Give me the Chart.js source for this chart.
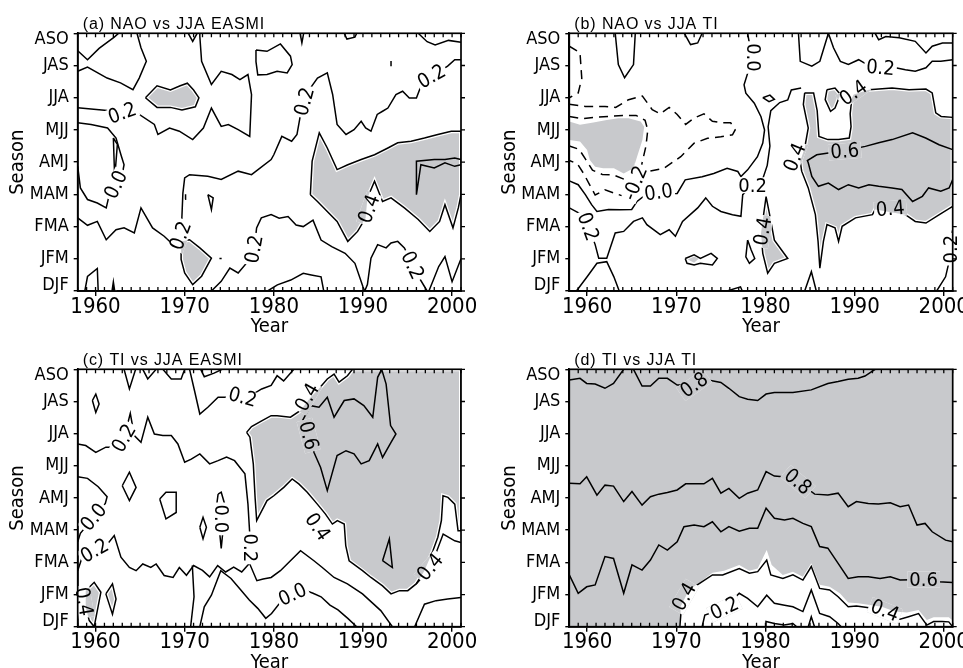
<!DOCTYPE html>
<html>
<head>
<meta charset="utf-8">
<script src="https://cdn.jsdelivr.net/npm/chart.js@4.4.1/dist/chart.umd.min.js"></script>
<style>
html,body{margin:0;padding:0;background:#fff;overflow:hidden;}
#wrap{position:relative;width:963px;height:668px;}
canvas{position:absolute;}
</style>
</head>
<body>
<div id="wrap">
<canvas id="ca" width="481" height="334" style="left:0;top:0;width:481px;height:334px"></canvas>
<canvas id="cb" width="482" height="334" style="left:481px;top:0;width:482px;height:334px"></canvas>
<canvas id="cc" width="481" height="334" style="left:0;top:334px;width:481px;height:334px"></canvas>
<canvas id="cd" width="482" height="334" style="left:481px;top:334px;width:482px;height:334px"></canvas>
</div>
<script>
// ---------- axes ----------
const seasons = ['DJF','JFM','FMA','MAM','AMJ','MJJ','JJA','JAS','ASO'];
const yearTicks = [1960,1970,1980,1990,2000];
const yearMin = 1958, yearMax = 2001;
const titles = ['(a) NAO vs JJA EASMI','(b) NAO vs JJA TI','(c) TI vs JJA EASMI','(d) TI vs JJA TI'];

// ---------- panel (a): NAO vs JJA EASMI ----------
const aShadeJJA = [[1965.6,6.0],[1966.9,6.37],[1968.4,6.24],[1969.5,6.37],[1970.3,6.45],[1971.0,6.24],[1971.6,6.0],[1971.2,5.72],[1969.7,5.62],[1968.4,5.7],[1966.9,5.7]];
const aShadeJFM = [[1969.6,1.54],[1970.55,1.59],[1971.7,1.34],[1973.0,1.02],[1971.9,0.46],[1970.9,0.2],[1970.0,0.56],[1969.6,0.98]];
const aShadeRight = [[1984.1,2.99],[1984.3,4.03],[1985.1,4.91],[1986.0,4.44],[1987.1,3.77],[1988.3,3.92],[1989.8,4.08],[1991.3,4.23],[1992.8,4.44],[1993.9,4.60],[1995.4,4.65],[1996.9,4.75],[1998.4,4.86],[1999.9,4.96],[2001,4.96],[2001,2.99],[2000.7,2.58],[2000.1,1.96],[1999.2,2.68],[1998.6,2.16],[1997.5,1.85],[1996.2,2.22],[1994.65,2.58],[1993.15,2.89],[1992.2,2.78],[1991.3,3.41],[1990.5,2.89],[1990.3,2.27],[1989.4,1.85],[1988.3,1.54],[1987.1,2.16],[1986.0,2.47],[1984.9,2.78]];
const aShadeTop = [[1982.95,8],[1983.15,7.7],[1983.35,8]];
const aShadeSpike = [[1961.85,0],[1962.0,0.28],[1962.15,0]];
const aTopLeft = [[1958,7.46],[1959.1,7.18],[1960.4,7.53],[1962.1,7.88],[1962.6,8]];
const aUpper02 = [[1958,6.82],[1959.1,6.95],[1961.3,6.61],[1962.8,6.46],[1964.2,6.25],[1964.9,6.61],[1965.7,7.13],[1965.1,7.55],[1964.65,8]];
const aMid02 = [[1958,5.69],[1961.3,5.6],[1964.65,5.53],[1966.6,5.17],[1967.0,4.86],[1968.3,5.06],[1969.4,4.96],[1970.9,4.7],[1972.1,5.06],[1973.0,5.68],[1974.1,5.11],[1974.9,5.17],[1976.0,5.01],[1977.3,4.8],[1977.5,6.1],[1977.1,6.72],[1976.2,6.56],[1975.3,6.72],[1974.1,6.82],[1973.0,6.41],[1971.9,7.13],[1971.7,7.91],[1971.7,8]];
const aTopV = [[1970.4,8],[1970.9,7.75],[1971.4,8]];
const aJASLoop = [[1978.0,7.48],[1979.24,7.44],[1980.74,7.67],[1981.87,7.29],[1982.06,7.03],[1981.5,6.77],[1980.37,6.82],[1979.24,6.72],[1978.2,6.71],[1978.0,7.12],[1978.0,7.48]];
const aTopBump = [[1987.9,8],[1988.2,7.82],[1989.1,7.88],[1989.3,8]];
const aTopRight = [[1996.2,8],[1997.2,7.74],[1998.1,7.64],[1999.6,7.78],[2001,7.72]];
const aTick = [[1993.15,6.98],[1993.15,7.14]];
const aLong02 = [[1958,2.27],[1959.1,2.04],[1960.2,2.16],[1961.2,1.59],[1962.3,1.90],[1963.2,1.96],[1964.35,1.80],[1965.1,2.58],[1966.4,1.96],[1967.7,1.70],[1968.9,1.39],[1969.6,1.7],[1969.8,3.04],[1970.0,3.51],[1970.55,3.61],[1972.6,3.56],[1974.1,3.46],[1976.0,3.72],[1977.5,3.61],[1979.7,4.08],[1980.0,4.23],[1980.9,4.80],[1982.0,4.65],[1982.6,4.86],[1983.0,5.48],[1983.45,5.93],[1984.1,6.30],[1984.9,6.61],[1986.0,6.77],[1986.6,6.10],[1987.1,5.17],[1988.1,4.86],[1989.0,5.01],[1989.8,5.27],[1990.3,5.06],[1990.9,4.96],[1991.6,5.48],[1992.2,5.58],[1992.8,5.68],[1993.7,6.10],[1994.45,6.20],[1995.2,5.99],[1996.0,5.99],[1996.5,6.36],[1997.7,6.66],[1999.5,6.98],[2000.3,7.18],[2001,7.18]];
const aLoop00 = [[1958,5.22],[1959.5,5.17],[1961.35,5.06],[1962.3,4.75],[1962.85,4.23],[1963.2,3.92],[1962.85,3.41],[1962.3,3.30],[1961.5,2.94],[1961.2,2.58],[1960.2,2.73],[1959.1,2.84],[1958.3,3.20],[1958,3.87]];
const aSliver = [[1962.0,4.75],[1962.15,3.5],[1962.45,4.55],[1962.0,4.75]];
const aTri = [[1972.6,2.99],[1973.2,2.89],[1973.0,2.53],[1972.6,2.99]];
const aMark = [[1970.05,2.85],[1970.1,3.0]];
const aDash = [[1973.9,1.01],[1974.15,1.01]];
const aLow02 = [[1973.0,0],[1974.1,0.30],[1975.07,0.71],[1976.0,0.56],[1977.1,0.92],[1977.8,1.3],[1978.07,1.96],[1978.6,2.27],[1979.7,2.37],[1980.6,2.26],[1981.6,2.31],[1982.5,2.05],[1983.3,2.0],[1984.4,2.2],[1985.3,1.58],[1986.5,1.38],[1988.0,1.17],[1989.1,0.86],[1990.0,0.13],[1990.2,0]];
const aBottomMid = [[1979.3,0],[1980.4,0.19],[1981.9,0.34],[1983.3,0.55],[1984.2,0.5],[1985.3,0.44],[1985.6,0]];
const aRight02 = [[1990.2,0],[1990.5,0.2],[1990.9,1.02],[1991.65,1.44],[1992.6,1.34],[1993.15,1.49],[1993.9,1.54],[1994.65,1.34],[1995.4,0.92],[1996.2,0.46],[1996.9,0.14],[1997.2,0]];
const aBottomRight = [[1997.4,0],[1998.5,0.76],[1999.2,1.07],[2000.0,0.29],[2001,1.0]];
const aBottomLeft = [[1958.8,0],[1959.1,0.45],[1960.2,0.7],[1960.3,0]];
const aInner = [[2001,3.92],[2000.3,3.87],[1999.2,3.98],[1998.0,3.82],[1996.5,3.92],[1996.0,2.99],[1996.0,4.03],[1998.0,4.08],[1999.2,4.08],[2000.3,4.13],[2001,4.08]];
const aLabels = [[1963.0,5.52,'0.2',-20],[1962.3,3.3,'0.0',-65],[1969.55,1.72,'0.2',-70],[1977.8,1.3,'0.2',-80],[1983.45,5.88,'0.2',-75],[1990.7,2.55,'0.4',-70],[1995.55,0.8,'0.2',65],[1997.7,6.66,'0.2',-30]];

// ---------- panel (b): NAO vs JJA TI ----------
const bShadeLeft = [[1958,5.26],[1959.2,5.16],[1960.7,5.23],[1962.2,5.31],[1963.5,5.36],[1964.65,5.36],[1966.0,5.26],[1966.4,5.10],[1966.2,4.69],[1965.6,4.17],[1965.2,3.81],[1964.1,3.65],[1963.0,3.81],[1961.8,3.81],[1960.9,3.86],[1960.3,4.07],[1960.0,4.38],[1959.2,4.64],[1958,4.69]];
const bShadeBig = [[1984.4,6.15],[1985.4,6.15],[1985.8,5.6],[1986.0,4.8],[1987.0,4.7],[1988.2,4.7],[1989.4,4.75],[1989.6,5.1],[1989.5,5.5],[1989.7,6.0],[1989.9,6.1],[1991.6,6.25],[1994.2,6.3],[1996.1,6.25],[1998.0,6.27],[1998.7,6.15],[1999.1,5.53],[1999.7,5.42],[2001,5.39],[2001,2.63],[1999.5,2.37],[1998.0,2.11],[1996.8,2.16],[1995.7,2.37],[1992.3,2.53],[1992.0,2.37],[1990.1,2.27],[1988.6,2.01],[1988.2,1.54],[1987.8,1.96],[1986.9,2.06],[1986.5,1.54],[1986.1,0.71],[1985.9,1.54],[1985.6,2.37],[1984.8,3.2],[1984.06,3.72],[1983.9,4.03],[1984.4,4.44],[1984.8,5.06],[1984.25,5.79]];
const bShadeFinger = [[1986.9,6.25],[1987.8,6.3],[1988.4,6.1],[1987.8,5.68],[1987.3,5.58],[1986.7,5.94]];
const bShadeSpike = [[1980.07,2.93],[1980.44,2.41],[1981.0,1.58],[1982.5,1.01],[1981.0,0.86],[1980.25,0.55],[1979.7,1.17],[1979.5,1.79]];
const bShadeSmall = [[1971.3,0.98],[1972.0,1.07],[1972.5,1.0],[1972.0,0.88]];
const bTopV = [[1963.15,8],[1963.5,7.03],[1964.2,6.62],[1965.2,7.03],[1965.4,8]];
const bTopSmall = [[1970.9,8],[1971.6,7.65],[1972.4,7.7],[1972.9,8]];
const bDashLoop = [[1958,7.6],[1959.2,7.4],[1959.4,6.6],[1959.0,6.15],[1958,6.0]];
const bDashBig = [[1958,5.8],[1959.8,5.73],[1962,5.73],[1963.2,5.7],[1964.65,5.94],[1966.2,6.05],[1967.3,5.63],[1968.2,5.5],[1969.2,5.7],[1970.1,5.48],[1971.05,5.17],[1972,5.37],[1973.1,5.5],[1974.05,5.27],[1975.2,5.22],[1976.1,5.22],[1976.6,5.0],[1976.3,4.85],[1975.0,4.79],[1973.5,4.74],[1972.0,4.59],[1970.5,4.17],[1968.6,3.81],[1966.7,3.7],[1965.6,3.29],[1964.5,2.9],[1962.0,3.14],[1960.9,2.98],[1960.3,3.29],[1959.6,3.65],[1958.9,3.95],[1958,4.05]];
const bDashGray = [[1958,5.42],[1959.5,5.35],[1961,5.4],[1962.5,5.42],[1964,5.45],[1965.5,5.45],[1966.5,5.3],[1966.8,5.0],[1966.6,4.5],[1966.1,3.9],[1965.5,3.5],[1964.3,3.45],[1963.0,3.6],[1961.7,3.62],[1960.6,3.75],[1959.8,4.1],[1959.1,4.4],[1958,4.5]];
const bLine00 = [[1958,3.42],[1959.0,3.30],[1959.8,2.99],[1960.5,2.68],[1961.1,2.47],[1962.4,2.53],[1963.7,2.52],[1965.0,2.53],[1965.6,2.78],[1966.6,3.0],[1967.9,3.05],[1969.2,3.02],[1970.1,3.03],[1971.0,3.45],[1972.9,3.55],[1974.2,3.65],[1975.7,3.81],[1976.9,3.71],[1977.25,3.55],[1978.0,3.76],[1979.1,4.17],[1979.7,4.59],[1979.9,5.0],[1979.5,5.41],[1978.75,5.83],[1977.8,6.14],[1977.6,6.4],[1978.0,6.76],[1978.56,6.97],[1978.7,7.3],[1978.2,7.69],[1978.0,8.0]];
const bLine02 = [[1958,2.58],[1959.4,2.37],[1960.1,2.22],[1960.3,1.9],[1960.9,1.44],[1961.3,1.02],[1962.2,1.02],[1963.15,1.80],[1964.1,1.85],[1965.2,2.16],[1966.2,2.27],[1966.7,2.06],[1968.2,1.75],[1969.2,1.90],[1969.9,1.70],[1970.7,2.16],[1972.4,2.58],[1973.3,2.89],[1974.05,2.63],[1975.0,2.47],[1976.3,2.37],[1977.25,2.32],[1977.45,2.99],[1978.5,3.3],[1979.6,3.4],[1980.2,3.9],[1980.5,4.5],[1980.3,5.1],[1980.6,5.6],[1981.6,5.85],[1982.5,5.93],[1982.9,6.24],[1984.0,6.3]];
const bTopU = [[1983.7,8],[1983.9,7.13],[1985.2,6.98],[1986.1,7.13],[1987.06,8]];
const bUpper02 = [[1987.06,8],[1987.63,7.55],[1988.4,7.13],[1989.3,7.03],[1990.45,7.18],[1991.4,7.03],[1992.9,6.93],[1994.6,6.93],[1995.7,6.87],[1996.8,6.82],[1998.0,6.93],[1998.7,7.13],[1999.66,7.13],[2001,7.18]];
const bTopRight = [[1992.3,8],[1992.7,7.8],[1993.5,7.9],[1995.0,7.86],[1996.8,7.75],[1998.0,7.39],[1998.7,7.6],[1999.85,7.7],[2001,7.7]];
const bLine06 = [[2001,3.46],[2000.6,3.2],[1999.66,3.10],[1998.3,3.20],[1997.6,2.94],[1996.5,2.78],[1995.3,3.15],[1994.2,3.20],[1992.7,3.25],[1991.6,3.30],[1990.45,3.20],[1989.3,3.30],[1988.2,3.15],[1987.06,3.35],[1985.94,3.25],[1985.2,3.56],[1984.8,3.98],[1984.7,4.05],[1985.75,4.23],[1987.25,4.29],[1988.95,4.36],[1991.2,4.49],[1992.7,4.60],[1994.2,4.70],[1996.5,4.91],[1997.97,4.75],[1999.47,4.54],[2001,4.39]];
const bDiamond = [[1979.7,6.0],[1980.5,6.08],[1981.0,5.95],[1980.4,5.88],[1979.7,6.0]];
const bDiamond2 = [[1978.0,1.58],[1978.4,1.27],[1978.8,1.01],[1978.2,0.86],[1977.8,1.06],[1978.0,1.58]];
const bBowtie = [[1971.0,1.01],[1972.0,1.12],[1972.7,1.01],[1973.9,1.17],[1974.6,1.01],[1974.05,0.81],[1972.7,0.86],[1972.0,0.81],[1971.2,0.86],[1971.0,1.01]];
const bBottomLeft = [[1958.8,0],[1960,0.44],[1961.1,0.86],[1962.2,0.91],[1963,0.44],[1963.6,0]];
const bBottomMid = [[1975.7,0],[1977.2,0.13],[1977.4,0]];
const bBottom85 = [[1984.4,0],[1985.15,0.6],[1985.7,0]];
const bBottomRight = [[2001,1.9],[2000.75,1.58],[2000.55,0.86],[2000.2,0.44],[1999.2,0]];
const bLabels = [[1960.1,2.0,'0.2',70],[1965.4,3.35,'-0.2',-68],[1968.0,3.06,'0.0',-8],[1978.55,3.28,'0.2',0],[1978.65,7.25,'0.0',90],[1979.7,1.85,'0.4',-80],[1983.3,4.15,'0.4',-68],[1988.9,4.34,'0.6',-5],[1989.85,6.15,'0.4',-35],[1992.9,6.93,'0.2',5],[1994.0,2.55,'0.4',-5],[2000.75,1.3,'0.2',-90]];

// ---------- panel (c): TI vs JJA EASMI ----------
const cShade = [[1976.95,6.04],[1977.5,6.22],[1978.64,6.40],[1979.7,6.56],[1980.37,6.56],[1981.87,6.51],[1983.0,6.72],[1984.13,7.13],[1984.88,7.34],[1986.0,7.70],[1986.76,7.85],[1987.32,7.60],[1988.26,7.80],[1988.83,8.0],[2001,8.0],[2001,2.98],[2000.67,2.98],[2000.3,3.81],[1999.54,4.02],[1998.98,4.07],[1998.8,3.30],[1998.4,2.78],[1997.85,2.36],[1996.9,1.74],[1995.97,1.33],[1995.03,1.12],[1994.1,1.12],[1993.15,1.02],[1992.2,1.27],[1990.9,1.53],[1989.95,1.74],[1988.45,2.05],[1988.07,2.52],[1987.9,3.19],[1987.13,3.30],[1986.57,3.19],[1985.8,3.50],[1984.88,3.81],[1983.75,4.18],[1982.8,4.44],[1982.06,4.59],[1981.12,4.33],[1980.0,4.07],[1979.24,3.92],[1978.08,3.30],[1977.9,4.02],[1977.7,5.06],[1977.32,5.89]];
const cShadeBlob = [[1958.9,1.12],[1959.85,1.38],[1960.6,1.07],[1960.2,0.50],[1959.85,0],[1959.3,0.19],[1958.9,0.60]];
const cShadeDiamond = [[1961.16,1.02],[1961.9,1.33],[1962.3,0.86],[1961.9,0.39]];
const cLoop06 = [[1983.2,6.40],[1984.13,6.87],[1985.07,6.82],[1986.0,7.13],[1986.76,6.51],[1987.9,7.03],[1989.0,7.08],[1990.1,6.87],[1991.1,6.51],[1991.65,7.75],[1992.1,8.0],[1992.6,7.54],[1993.1,6.25],[1993.7,5.99],[1993.15,5.73],[1992.2,5.26],[1991.65,5.68],[1990.7,5.16],[1989.8,5.06],[1989.0,5.37],[1988.1,5.47],[1987.1,5.32],[1986.0,4.23],[1985.25,4.95],[1984.5,5.42],[1983.9,5.94],[1983.2,6.40]];
const cTop02 = [[1970.55,8],[1971.1,7.34],[1971.7,6.61],[1972.6,6.82],[1973.75,7.13],[1974.9,7.13],[1976.5,7.13],[1977.5,7.2],[1978.64,7.39],[1979.7,7.5],[1980.37,7.8],[1981.1,7.64],[1982.25,8]];
const cJJA02 = [[1958,5.68],[1958.9,5.63],[1960.03,5.42],[1961.16,5.58],[1962.1,5.58],[1963.2,5.86],[1963.9,6.63],[1964.35,5.94],[1965.1,5.73],[1965.86,6.51],[1966.6,5.99],[1967.55,5.94],[1968.5,5.94],[1969.24,5.68],[1970.0,5.11],[1970.74,5.21],[1971.7,5.37],[1972.8,5.06],[1973.75,5.16],[1974.7,5.27],[1975.6,5.16],[1976.2,4.95],[1976.76,4.75],[1977.1,3.81],[1977.3,2.88],[1977.3,2.47],[1977.3,1.95],[1978.1,1.43],[1978.8,1.48],[1979.7,1.53],[1980.74,1.74],[1983.0,2.36],[1984.5,2.05],[1985.44,1.84],[1986.76,1.53],[1988.26,1.33],[1989.95,1.02],[1992.0,0.50],[1993.3,0]];
const cLeft00 = [[1958,4.66],[1959.1,4.61],[1960.3,4.35],[1961.3,4.04],[1961.1,3.83],[1959.8,3.4],[1958.3,2.9],[1958,2.64]];
const cFMA02 = [[1958,1.74],[1958.5,2.16],[1959.9,2.36],[1961.35,2.57],[1962.1,2.83],[1962.85,2.16],[1963.8,1.84],[1964.55,1.74],[1965.3,1.95],[1966.2,1.84],[1966.8,1.95],[1967.7,1.59],[1968.7,1.53],[1969.4,1.84],[1970.2,1.6],[1971.0,1.9],[1972.0,1.75],[1972.8,1.55],[1973.7,1.9],[1974.6,1.7],[1975.5,1.85],[1976.4,1.7],[1977.2,1.95]];
const cVert70 = [[1970.86,1.9],[1971.05,0.93],[1970.67,0]];
const cBottom00 = [[1971.7,0],[1972.2,0.62],[1973.0,0.98],[1974.05,1.74],[1975.2,1.50],[1976.3,1.14],[1977.25,0.83],[1978.2,0.57],[1979.1,0.26],[1979.75,0.41],[1980.8,0.78],[1982.1,1.0],[1983.45,1.14],[1984.4,1.04],[1985.3,0.93],[1986.3,0.67],[1987.2,0.52],[1988.3,0.26],[1989.3,0]];
const cBottomRight = [[1995.8,0],[1996.9,0.70],[1998.2,0.81],[1999.5,0.86],[2001,0.91]];
const cRight04 = [[1995.97,1.33],[1997.55,1.81],[1999.0,2.88],[2000.3,2.67],[2001,2.62]];
const cTri = [[1992.2,2.05],[1992.96,2.73],[1993.3,1.84],[1992.2,2.05]];
const cDiamondJAS = [[1959.65,7.03],[1960.03,7.23],[1960.4,6.92],[1960.03,6.66],[1959.65,7.03]];
const cTopV1 = [[1963.2,8],[1963.8,7.39],[1964.5,8]];
const cTopV2 = [[1965.3,8],[1965.86,7.7],[1966.8,8]];
const cTopV3 = [[1967.55,8],[1968.5,7.7],[1969.6,7.7],[1970.0,8]];
const cTopV4 = [[1971.8,8],[1972.2,7.77],[1973.3,7.88],[1974.2,8]];
const cDiamondAMJ = [[1963.0,4.38],[1963.8,4.8],[1964.55,4.33],[1963.8,3.92],[1963.0,4.38]];
const cPent = [[1967.2,3.97],[1967.9,4.18],[1969.05,4.18],[1969.05,3.55],[1967.9,3.35],[1967.2,3.97]];
const cDiamondMAM = [[1971.7,3.09],[1972.06,3.40],[1972.44,3.09],[1972.06,2.73],[1971.7,3.09]];
const cSpindle = [[1973.75,4.12],[1974.1,4.18],[1974.5,3.8],[1974.3,3.0],[1974.1,2.43],[1973.9,3.0],[1973.6,3.8],[1973.75,4.12]];
const cLabels = [[1963.2,5.86,'0.2',-60],[1959.8,3.4,'0.0',-50],[1959.9,2.36,'0.2',-30],[1976.5,7.13,'0.2',15],[1983.75,7.13,'0.4',-60],[1983.9,5.94,'0.6',75],[1984.9,3.1,'0.4',55],[1977.3,2.45,'0.2',90],[1974.15,3.35,'0.0',90],[1982.1,1.0,'0.0',-25],[1997.55,1.85,'0.4',-50],[1958.7,0.78,'0.4',80]];

// ---------- panel (d): TI vs JJA TI ----------
const dShadeAll = [[1958,0],[2001,0],[2001,8],[1958,8]];
const dWhite = [[1970.48,0],[1970.48,0.62],[1971.42,1.14],[1972.74,1.40],[1974.05,1.68],[1975.37,1.74],[1977.06,1.92],[1978.19,1.74],[1979.13,1.81],[1980.14,2.38],[1980.7,1.92],[1981.95,1.61],[1983.08,1.71],[1984.2,1.55],[1985.14,1.97],[1986.08,1.30],[1987.2,1.24],[1988.34,1.04],[1989.28,0.75],[1990.4,0.73],[1991.9,0.67],[1993.04,0.62],[1994.5,0.47],[1995.86,0.44],[1997.17,0.52],[1998.1,0.21],[1998.86,0.29],[1999.8,0.29],[2000.56,0.29],[2001,0.19],[2001,0]];
const dTop08 = [[1958,7.67],[1959.2,7.72],[1959.95,7.56],[1960.9,7.54],[1962.0,7.41],[1962.96,7.56],[1964.1,8.0],[1965.2,8.0],[1966.16,7.48],[1967.1,7.48],[1968.04,7.72],[1969.0,7.72],[1970.1,7.51],[1972.0,7.51],[1973.86,7.65],[1975.0,7.59],[1975.9,7.41],[1977.06,7.15],[1978.0,7.07],[1979.13,7.03],[1980.07,7.23],[1981.0,7.28],[1983.08,7.28],[1985.14,7.36],[1987.0,7.56],[1988.15,7.62],[1989.28,7.69],[1990.4,7.72],[1991.16,7.79],[1992.3,8.0]];
const dMid08 = [[1958,4.46],[1959.2,4.44],[1959.95,4.66],[1961.1,4.09],[1962.0,4.40],[1962.96,4.37],[1964.1,3.89],[1965.03,4.20],[1966.16,3.78],[1967.1,4.04],[1968.04,4.12],[1969.0,4.17],[1970.1,4.25],[1971.05,4.44],[1972.0,4.44],[1973.1,4.44],[1974.05,4.61],[1975.0,4.15],[1975.9,4.30],[1977.06,3.99],[1978.0,4.15],[1979.13,4.25],[1980.07,4.82],[1981.0,4.68],[1981.95,4.66],[1983.64,4.51],[1985.52,4.12],[1987.0,4.09],[1988.15,4.15],[1989.28,3.73],[1990.2,3.89],[1991.53,3.83],[1992.66,3.81],[1994.0,3.85],[1995.1,3.73],[1996.05,3.78],[1997.0,3.16],[1997.9,3.21],[1998.7,2.95],[2000.2,2.69],[2001,2.64]];
const dLine06 = [[1958,1.61],[1959.0,1.04],[1959.95,1.24],[1960.9,1.30],[1962.0,2.18],[1962.96,2.12],[1964.1,1.04],[1965.03,1.92],[1966.16,1.76],[1967.1,2.07],[1968.04,2.54],[1969.0,2.38],[1970.1,2.64],[1970.86,3.11],[1972.0,3.16],[1973.1,3.11],[1974.05,3.26],[1975.0,2.95],[1975.9,3.11],[1977.06,2.97],[1978.2,3.06],[1979.13,3.06],[1980.07,3.68],[1981.0,3.37],[1982.14,3.32],[1983.08,3.37],[1984.2,3.21],[1985.14,3.11],[1986.08,2.49],[1987.0,2.44],[1988.15,1.97],[1989.28,1.50],[1990.4,1.55],[1991.53,1.55],[1992.85,1.50],[1994.0,1.55],[1995.1,1.45],[1997.74,1.47],[1999.4,1.40],[2001,1.37]];
const dLine04 = [[1970.4,0],[1970.55,0.52],[1970.9,0.93],[1972.36,1.30],[1974.05,1.61],[1975.2,1.61],[1977.06,1.81],[1978.2,1.66],[1979.13,1.71],[1980.14,2.07],[1980.6,1.61],[1981.95,1.50],[1983.08,1.61],[1984.2,1.45],[1985.14,1.87],[1986.08,1.19],[1987.2,1.14],[1988.15,0.93],[1989.28,0.62],[1990.2,0.64],[1993.4,0.52],[1995.1,0.23],[1996.05,0.31],[1997.17,0.41],[1998.1,0.05],[1998.86,0.16],[1999.8,0.16],[2000.56,0.15],[2001,0]];
const dLine02 = [[1972.9,0],[1973.2,0.36],[1975.4,0.57],[1977.06,1.04],[1978.0,0.88],[1979.13,0.62],[1980.14,0.98],[1981.0,0.73],[1982.14,0.67],[1983.08,0.62],[1984.2,0.47],[1985.14,1.14],[1986.08,0.41],[1987.2,0.31],[1988.15,0.10],[1988.5,0]];
const dLow1 = [[1980.0,0],[1980.06,0.16],[1981.0,0.10],[1982.1,0.05],[1983.08,0.10],[1983.5,0]];
const dLow2 = [[1984.8,0],[1985.14,0.31],[1985.5,0]];
const dLabels = [[1972.0,7.51,'0.8',-35],[1983.64,4.51,'0.8',40],[1997.74,1.47,'0.6',0],[1970.9,0.93,'0.4',-60],[1975.4,0.57,'0.2',-25],[1993.4,0.5,'0.4',22]];

// ---------- rendering ----------
const GRAY = 'rgb(200,201,204)';
const NARROW = "'Liberation Sans Narrow','Arial Narrow','DejaVu Sans Condensed',sans-serif";

const panels = [
  {id:'ca', title:titles[0], left:77.7, right:20, top:33.3, bottom:43,
   shades:[[aShadeRight,GRAY,true],[aShadeJJA,GRAY,true],[aShadeJFM,GRAY,true],[aShadeTop,GRAY,true],[aShadeSpike,'#000',true]],
   solid:[aTopLeft,aUpper02,aMid02,aTopV,aJASLoop,aTopBump,aTopRight,aTick,aLong02,aLoop00,aSliver,aTri,aMark,aDash,aLow02,aBottomMid,aRight02,aBottomRight,aBottomLeft,aInner],
   dashed:[], labels:aLabels},
  {id:'cb', title:titles[1], left:88.3, right:10.3, top:33.3, bottom:43,
   shades:[[bShadeBig,GRAY,true],[bShadeFinger,GRAY,true],[bShadeLeft,GRAY,false],[bShadeSpike,GRAY,true],[bShadeSmall,GRAY,false]],
   solid:[bTopV,bTopSmall,bLine00,bLine02,bTopU,bUpper02,bTopRight,bLine06,bDiamond,bDiamond2,bBowtie,bBottomLeft,bBottomMid,bBottom85,bBottomRight],
   dashed:[bDashLoop,bDashBig,bDashGray], labels:bLabels},
  {id:'cc', title:titles[2], left:77.7, right:20, top:35.3, bottom:41.3,
   shades:[[cShade,GRAY,true],[cShadeBlob,GRAY,true],[cShadeDiamond,GRAY,true]],
   solid:[cLoop06,cTop02,cJJA02,cLeft00,cFMA02,cVert70,cBottom00,cBottomRight,cRight04,cTri,cDiamondJAS,cTopV1,cTopV2,cTopV3,cTopV4,cDiamondAMJ,cPent,cDiamondMAM,cSpindle],
   dashed:[], labels:cLabels},
  {id:'cd', title:titles[3], left:88.3, right:10.3, top:35.3, bottom:41.3,
   shades:[[dShadeAll,GRAY,false],[dWhite,'#ffffff',false]],
   solid:[dTop08,dMid08,dLine06,dLine04,dLine02,dLow1,dLow2],
   dashed:[], labels:dLabels}
];

function makeDeco(p){
  return {
    id:'deco_'+p.id,
    afterDatasetsDraw(chart){
      const {ctx, chartArea:a} = chart;
      const x = chart.scales.x, y = chart.scales.y;
      ctx.save();
      ctx.font = `20px ${NARROW}`;
      for (const [vx,vy,t,ang] of p.labels){
        const px = x.getPixelForValue(vx), py = y.getPixelForValue(vy);
        const w = ctx.measureText(t).width;
        const r = ang*Math.PI/180;
        // repaint the local background (white + shaded areas) under the label so the line is broken there
        ctx.save();
        ctx.beginPath(); ctx.rect(a.left,a.top,a.right-a.left,a.bottom-a.top); ctx.clip();
        ctx.translate(px,py); ctx.rotate(r);
        ctx.beginPath(); ctx.rect(-w/2-2,-8,w+4,16); ctx.clip();
        ctx.setTransform(1,0,0,1,0,0);
        ctx.fillStyle = '#ffffff';
        ctx.fillRect(a.left,a.top,a.right-a.left,a.bottom-a.top);
        for (const [pts,color] of p.shades){
          ctx.beginPath();
          pts.forEach(([vx2,vy2],i)=>{const X=x.getPixelForValue(vx2),Y=y.getPixelForValue(vy2); if(i) ctx.lineTo(X,Y); else ctx.moveTo(X,Y);});
          ctx.closePath();
          ctx.fillStyle = color; ctx.fill();
        }
        ctx.restore();
        ctx.save();
        ctx.translate(px,py); ctx.rotate(r);
        ctx.fillStyle = '#000'; ctx.textAlign='center'; ctx.textBaseline='middle';
        ctx.fillText(t,0,1);
        ctx.restore();
      }
      ctx.restore();
    },
    afterDraw(chart){
      const {ctx, chartArea:a} = chart;
      const x = chart.scales.x, y = chart.scales.y;
      ctx.save();
      ctx.strokeStyle = '#000';
      ctx.lineWidth = 1.7;
      ctx.strokeRect(a.left,a.top,a.right-a.left,a.bottom-a.top);
      ctx.lineWidth = 1.3;
      ctx.beginPath();
      for (let yr=yearMin; yr<=yearMax; yr++){
        const px = x.getPixelForValue(yr);
        ctx.moveTo(px,a.top); ctx.lineTo(px,a.top+4);
        ctx.moveTo(px,a.bottom); ctx.lineTo(px,a.bottom-4);
      }
      for (let i=0;i<seasons.length;i++){
        const py = y.getPixelForValue(i);
        ctx.moveTo(a.right,py); ctx.lineTo(a.right+4,py);
      }
      ctx.stroke();
      ctx.fillStyle = '#000';
      ctx.font = "16px 'Liberation Sans', Arial, sans-serif";
      ctx.letterSpacing = '0.9px';
      ctx.textAlign = 'left'; ctx.textBaseline = 'alphabetic';
      ctx.fillText(p.title, a.left+5, a.top-4);
      ctx.letterSpacing = '0px';
      ctx.font = `20px ${NARROW}`;
      ctx.save();
      ctx.translate(a.left-60,(a.top+a.bottom)/2); ctx.rotate(-Math.PI/2);
      ctx.textAlign='center'; ctx.textBaseline='middle';
      ctx.fillText('Season',0,0);
      ctx.restore();
      ctx.textAlign='center'; ctx.textBaseline='middle';
      ctx.fillText('Year',(a.left+a.right)/2, a.bottom+36);
      ctx.restore();
    }
  };
}

function lineDS(pts, dashed){
  return {data:pts, showLine:true, pointRadius:0, borderColor:'#000', borderWidth:1.5,
          borderDash: dashed ? [9,6] : [], fill:false, tension:0, order:1};
}
// shaded area: filled polygon with a thin white rim (as in the original shading)
function shadeDS(pts, color, rim, order){
  return {data:pts.concat([pts[0]]), showLine:true, pointRadius:0,
          borderColor: rim ? '#ffffff' : 'rgba(0,0,0,0)', borderWidth: rim ? 4 : 0.01,
          backgroundColor: color, fill:'shape', tension:0, order:order};
}
// contour line that bounds a shaded area
function outlineDS(pts){
  return {data:pts.concat([pts[0]]), showLine:true, pointRadius:0, borderColor:'#000', borderWidth:1.5,
          fill:false, tension:0, order:2};
}

// the first and last season labels sit a little inside the frame, as in the original
function seasonLabel(v){
  const s = seasons[v];
  if (v === seasons.length-1) return ['', s];
  if (v === 0) return [s, ''];
  return s;
}

for (const p of panels){
  const datasets = [];
  p.shades.forEach((s,i)=>{
    datasets.push(shadeDS(s[0],s[1],s[2],100-i));
    if (s[2]) datasets.push(outlineDS(s[0]));
  });
  p.solid.forEach(l=>datasets.push(lineDS(l,false)));
  p.dashed.forEach(l=>datasets.push(lineDS(l,true)));
  new Chart(document.getElementById(p.id), {
    type:'scatter',
    data:{datasets},
    options:{
      responsive:false, animation:false, events:[],
      layout:{padding:{left:0, top:p.top, right:p.right, bottom:0}},
      plugins:{legend:{display:false}, tooltip:{enabled:false}, title:{display:false}},
      scales:{
        x:{type:'linear', min:yearMin, max:yearMax,
           afterBuildTicks:s=>{s.ticks = yearTicks.map(v=>({value:v}));},
           afterFit:s=>{s.height = p.bottom; s.paddingLeft = 0; s.paddingRight = 0;},
           ticks:{font:{family:NARROW, size:22, lineHeight:1}, color:'#000', padding:0, maxRotation:0, autoSkip:false, callback:v=>String(v)},
           grid:{drawOnChartArea:false, drawTicks:true, tickLength:5, color:'#000', lineWidth:1.4},
           border:{display:true, color:'#000', width:1.7}},
        y:{type:'linear', min:0, max:8,
           afterBuildTicks:s=>{s.ticks = seasons.map((_,i)=>({value:i}));},
           afterFit:s=>{s.width = p.left; s.paddingTop = 0; s.paddingBottom = 0;},
           ticks:{font:{family:NARROW, size:18, lineHeight:0.65}, color:'#000', padding:5, autoSkip:false, callback:seasonLabel},
           grid:{drawOnChartArea:false, drawTicks:true, tickLength:4, color:'#000', lineWidth:1.4},
           border:{display:true, color:'#000', width:1.7}}
      }
    },
    plugins:[makeDeco(p)]
  });
}
</script>
</body>
</html>
